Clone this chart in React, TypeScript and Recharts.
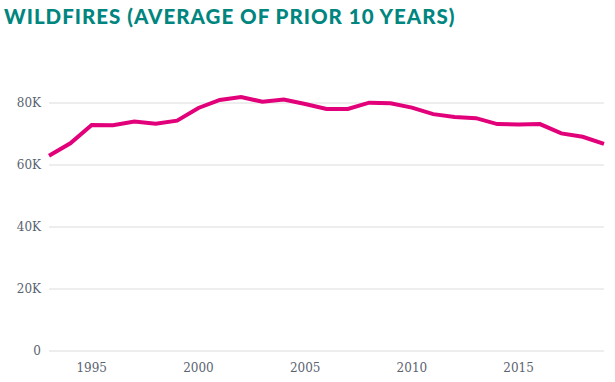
import React from "react";
import { LineChart, Line, XAxis, YAxis, CartesianGrid } from "recharts";

const years = [1993, 1994, 1995, 1996, 1997, 1998, 1999, 2000, 2001, 2002, 2003, 2004, 2005, 2006, 2007, 2008, 2009, 2010, 2011, 2012, 2013, 2014, 2015, 2016, 2017, 2018, 2019];
const wildfires = [63000, 67000, 72900, 72800, 74000, 73300, 74300, 78400, 81000, 81900, 80400, 81100, 79700, 78100, 78100, 80100, 79900, 78500, 76400, 75500, 75100, 73200, 73100, 73200, 70200, 69100, 66800];
const yTicks = [0, 20000, 40000, 60000, 80000];
const xTicks = [1995, 2000, 2005, 2010, 2015];
const title = "WILDFIRES (AVERAGE OF PRIOR 10 YEARS)";

const data = years.map((y, i) => ({ year: y, value: wildfires[i] }));

const fmtY = (v: number) => (v === 0 ? "0" : `${v / 1000}K`);

export default function App() {
  return (
    <div style={{ position: "absolute", left: 0, top: 0, width: 615, height: 382, background: "#fff" }}>
      <div
        style={{
          position: "absolute",
          left: 4,
          top: 4,
          fontFamily: "Lato, sans-serif",
          fontWeight: 900,
          fontSize: 20.5,
          letterSpacing: 1.0,
          color: "#00857f",
          whiteSpace: "nowrap",
        }}
      >
        {title}
      </div>
      <LineChart width={615} height={382} data={data} margin={{ top: 72, right: 11, bottom: 1, left: 0 }}>
        <CartesianGrid vertical={false} stroke="#dcdcdc" strokeWidth={1} horizontalValues={yTicks} />
        <XAxis
          dataKey="year"
          type="number"
          domain={[1993, 2019]}
          ticks={xTicks}
          axisLine={false}
          tickLine={false}
          tickSize={0}
          tickMargin={12}
          height={30}
          tick={{ fill: "#5a6370", fontSize: 12, fontFamily: "DejaVu Serif" }}
        />
        <YAxis
          domain={[0, 90000]}
          ticks={yTicks}
          tickFormatter={fmtY}
          axisLine={false}
          tickLine={false}
          tickSize={0}
          tickMargin={8}
          width={49}
          tick={{ fill: "#5a6370", fontSize: 12, fontFamily: "DejaVu Serif" }}
        />
        <Line
          type="linear"
          dataKey="value"
          stroke="#e2007a"
          strokeWidth={4}
          dot={false}
          isAnimationActive={false}
        />
      </LineChart>
    </div>
  );
}
